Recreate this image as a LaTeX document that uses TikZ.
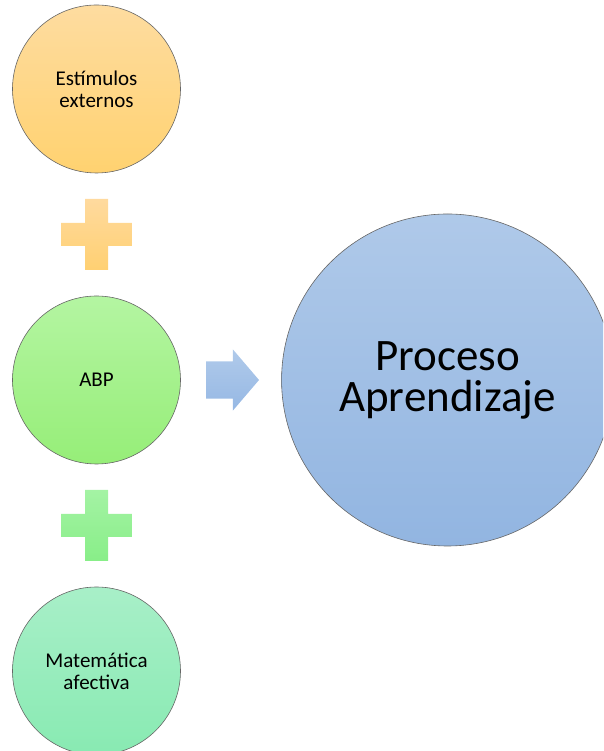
\documentclass[tikz,border=0pt]{standalone}
\usepackage{fontspec}
\setmainfont{Carlito}
\usepackage{tikz}
\usetikzlibrary{positioning,shapes.arrows}
\definecolor{estTop}{RGB}{254,220,160}
\definecolor{estBot}{RGB}{255,210,112}
\definecolor{abpTop}{RGB}{180,245,162}
\definecolor{abpBot}{RGB}{150,238,120}
\definecolor{matTop}{RGB}{168,239,200}
\definecolor{matBot}{RGB}{136,234,178}
\definecolor{proTop}{RGB}{175,201,233}
\definecolor{proBot}{RGB}{146,181,225}
\definecolor{plusOTop}{RGB}{255,218,158}
\definecolor{plusOBot}{RGB}{255,208,114}
\definecolor{plusGTop}{RGB}{164,243,164}
\definecolor{plusGBot}{RGB}{136,238,136}
\definecolor{arrTop}{RGB}{176,202,234}
\definecolor{arrBot}{RGB}{150,184,228}
\tikzset{
    % Define style for the small circles
    smallc/.style 2 args={
           circle,
           draw=black!60, line width=0.6pt,
           top color=#1, bottom color=#2,
           minimum size=168pt,
           inner sep=0pt,
           align=center,
           font=\fontsize{21}{22}\selectfont},
    % Define style for the big circle
    bigc/.style={
           circle,
           draw=black!60, line width=0.6pt,
           top color=proTop, bottom color=proBot,
           minimum size=332pt,
           inner sep=0pt,
           align=center,
           font=\fontsize{45}{41}\selectfont},
    % Define style for the plus signs
    plus/.style 2 args={
           rectangle,
           minimum size=71pt,
           inner sep=0pt,
           path picture={
             \shade[shift={(path picture bounding box.center)},top color=#1,bottom color=#2]
               (-11.5pt,35.5pt) -- (11.5pt,35.5pt) -- (11.5pt,11.5pt) -- (35.5pt,11.5pt)
               -- (35.5pt,-11.5pt) -- (11.5pt,-11.5pt) -- (11.5pt,-35.5pt) -- (-11.5pt,-35.5pt)
               -- (-11.5pt,-11.5pt) -- (-35.5pt,-11.5pt) -- (-35.5pt,11.5pt) -- (-11.5pt,11.5pt) -- cycle;}},
    % Define style for the arrow
    pil/.style={
           single arrow,
           top color=arrTop, bottom color=arrBot,
           minimum height=53pt,
           inner xsep=0pt, inner ysep=18.5pt,
           single arrow head extend=12pt,
           single arrow tip angle=99,
           single arrow head indent=0pt}
}

\begin{document}
\begin{tikzpicture}[x=1pt,y=1pt,node distance=25.5pt]
  \clip (0,0) rectangle (603,751);
  \node[smallc={estTop}{estBot}] (c1) at (96.5,662) {Estímulos\\externos};
  \node[plus={plusOTop}{plusOBot}] (p1) [below=of c1] {};
  \node[smallc={abpTop}{abpBot}] (c2) [below=of p1] {ABP};
  \node[plus={plusGTop}{plusGBot}] (p2) [below=of c2] {};
  \node[smallc={matTop}{matBot}] (c3) [below=of p2] {Matemática\\afectiva};
  \node[pil] (ar) [right=25pt of c2] {};
  \node[bigc] (pa) [right=22pt of ar] {Proceso\\Aprendizaje};
\end{tikzpicture}
\end{document}
